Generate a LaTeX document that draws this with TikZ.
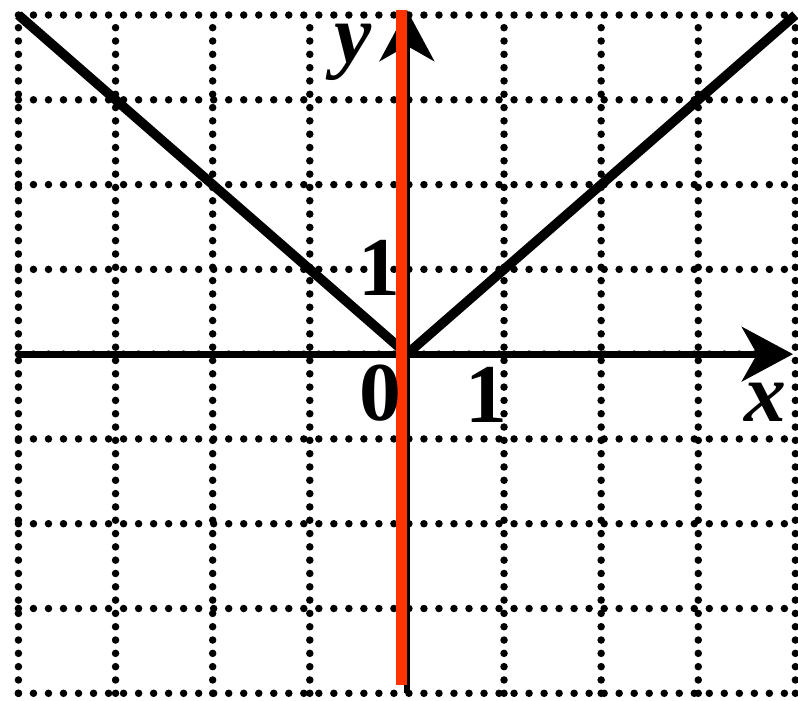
\documentclass[tikz,border=0pt]{standalone}
\usepackage{fontspec}
\setmainfont{Liberation Serif}
\usetikzlibrary{arrows.meta}
\definecolor{doan}{RGB}{255,51,0}
\tikzset{nhan/.style={inner sep=0pt, font=\fontsize{24.5}{29}\selectfont\bfseries}}
\begin{document}
\begin{tikzpicture}[x=1cm, y=0.873cm, line join=round, >={Stealth[length=15pt,width=16pt,inset=4.5pt]}]
	\useasboundingbox (-4.19,-4.083) rectangle (4.027,4.177);
	\foreach \x in {-4,-3,-2,-1,1,2,3,4}{\draw[line width=2.2pt, line cap=round, dash pattern=on 0pt off 3.9pt] (\x,-4)--(\x,4);};
	\foreach \y in {-4,-3,-2,-1,0,1,2,3,4}{\draw[line width=2.2pt, line cap=round, dash pattern=on 0pt off 4.4pt] (-4,\y)--(4,\y);};
	\coordinate (O) at (0,0);
	\coordinate (xA) at (-4,0);
	\coordinate (xB) at (3.975,0);
	\coordinate (yA) at (0,-4);
	\coordinate (yB) at (0,4.06);
	\draw[->, line width=2pt] (xA)--(xB);
	\draw[->, line width=2pt] (yA)--(yB);
	\coordinate (L) at (-4,4);
	\coordinate (R) at (4,4);
	\draw[line width=2.8pt] (L)--(O)--(R);
	\coordinate (dA) at (-0.057,-3.906);
	\coordinate (dB) at (-0.057,4.06);
	\draw[doan, line width=3.4pt] (dA)--(dB);
	\node[nhan] (ten y) at (-0.556,3.563) {\itshape y};
	\node[nhan] (ten x) at (3.687,-0.566) {\itshape x};
	\node[nhan] (goc) at (-0.278,-0.460) {0};
	\node[nhan] (mot y) at (-0.288,1.015) {1};
	\node[nhan] (mot x) at (0.814,-0.484) {1};
\end{tikzpicture}
\end{document}
